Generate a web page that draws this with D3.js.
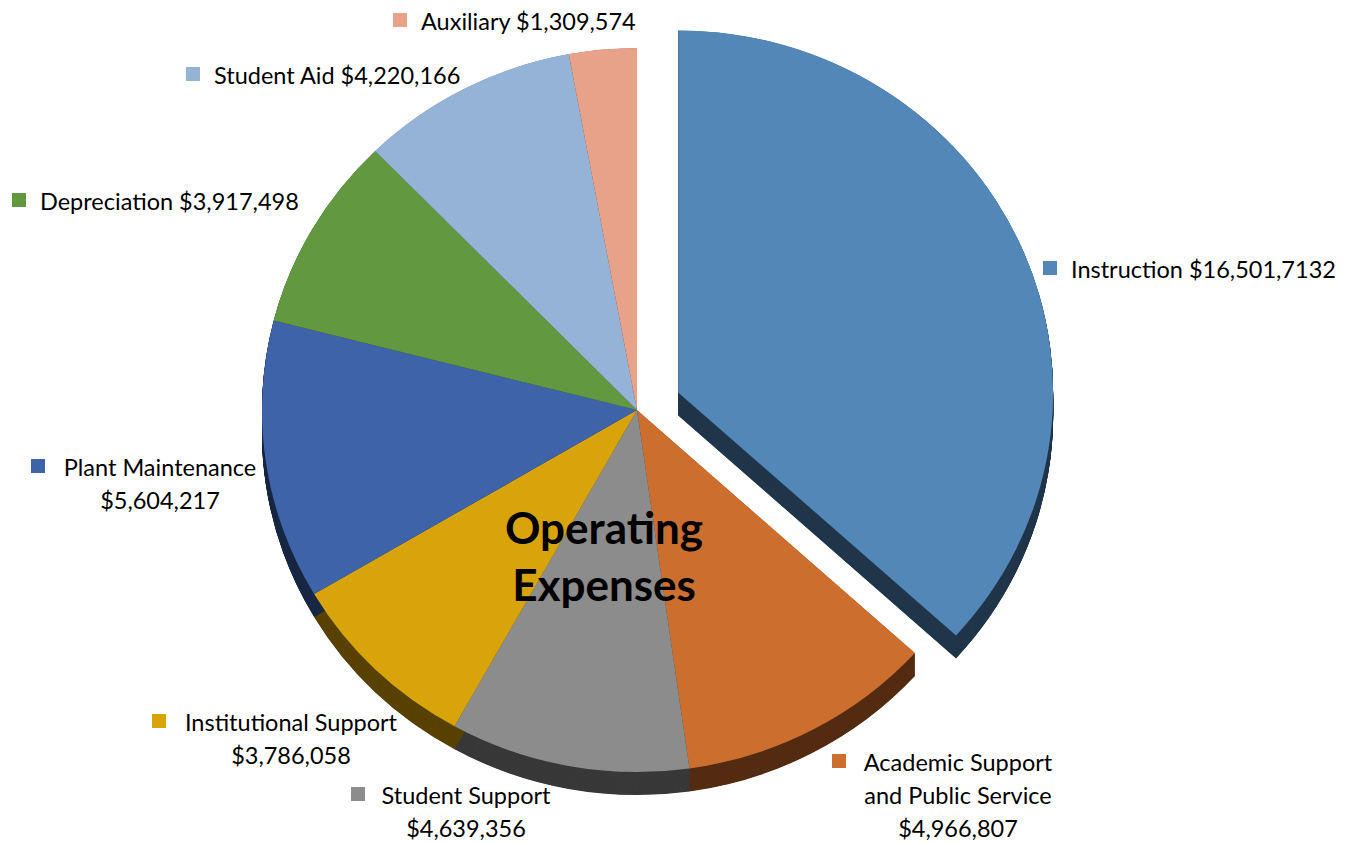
<!DOCTYPE html>
<html>
<head>
<meta charset="utf-8">
<script src="https://cdn.jsdelivr.net/npm/d3@7"></script>
<style>
  body { margin: 0; background: #fff; }
  text { font-family: Lato, "Noto Sans", sans-serif; fill: #000; }
</style>
</head>
<body>
<div id="chart"></div>
<script>
// data
var categories = ["Instruction", "Academic Support and Public Service", "Student Support",
  "Institutional Support", "Plant Maintenance", "Depreciation", "Student Aid", "Auxiliary"];
var values = [16501713, 4966807, 4639356, 3786058, 5604217, 3917498, 4220166, 1309574];
var labelLines = [
  ["Instruction $16,501,7132"],
  ["Academic Support", "and Public Service", "$4,966,807"],
  ["Student Support", "$4,639,356"],
  ["Institutional Support", "$3,786,058"],
  ["Plant Maintenance", "$5,604,217"],
  ["Depreciation $3,917,498"],
  ["Student Aid $4,220,166"],
  ["Auxiliary $1,309,574"]
];
var titleLines = ["Operating", "Expenses"];

// styles
var colors = ["#5387b8", "#cc6e2e", "#8c8c8c", "#d9a40a", "#3e63a8", "#629940", "#94b3d7", "#e8a28a"];
var exploded = [45, 0, 0, 0, 0, 0, 0, 0];

// label anchors: square left x, first baseline, center of text block (multi line)
var labelPos = [
  {x: 1043, y: 278},
  {x: 832, y: 771, cx: 958},
  {x: 351, y: 804, cx: 466},
  {x: 152, y: 731, cx: 291},
  {x: 31, y: 476, cx: 160},
  {x: 12, y: 210},
  {x: 186, y: 84},
  {x: 393, y: 30}
];

var svgWidth = 1363, svgHeight = 843;
var cx = 637, cy = 410;
var rx = 375, ry = 362;
var depth = 23;
var sy = ry / rx;

var svg = d3.select("#chart").append("svg")
  .attr("width", svgWidth)
  .attr("height", svgHeight);

var pie = d3.pie().value(d => d).sort(null);
var arcs = pie(values);
var arc = d3.arc().innerRadius(0).outerRadius(rx);

var pieGroup = svg.append("g")
  .attr("transform", `translate(${cx}, ${cy}) scale(1, ${sy})`);

function offset(d, i) {
  var mid = (d.startAngle + d.endAngle) / 2;
  return [Math.sin(mid) * exploded[i], -Math.cos(mid) * exploded[i]];
}

// side walls: stack of darker copies shifted down
var steps = d3.range(depth / sy, 0, -0.5);
var sides = pieGroup.append("g");
arcs.forEach(function(d, i) {
  var o = offset(d, i);
  var dark = d3.color(colors[i]).darker(2.5);
  sides.selectAll(null)
    .data(steps).enter()
    .append("path")
    .attr("d", arc(d))
    .attr("transform", t => `translate(${o[0]}, ${o[1] + t})`)
    .attr("fill", dark);
});

// top faces
pieGroup.append("g").selectAll("path")
  .data(arcs).enter()
  .append("path")
  .attr("d", arc)
  .attr("transform", (d, i) => { var o = offset(d, i); return `translate(${o[0]}, ${o[1]})`; })
  .attr("fill", (d, i) => colors[i]);

// labels
var fs = 23.5, lh = 33;
var labels = svg.append("g");
labelLines.forEach(function(lines, i) {
  var p = labelPos[i];
  labels.append("rect")
    .attr("x", p.x).attr("y", p.y - 17)
    .attr("width", 14).attr("height", 14)
    .attr("fill", colors[i]);
  if (lines.length === 1) {
    labels.append("text")
      .attr("x", p.x + 28).attr("y", p.y)
      .style("font-size", fs + "px")
      .text(lines[0]);
  } else {
    lines.forEach(function(line, j) {
      labels.append("text")
        .attr("x", p.cx).attr("y", p.y + j * lh)
        .attr("text-anchor", "middle")
        .style("font-size", fs + "px")
        .text(line);
    });
  }
});

// title
svg.append("g").selectAll("text")
  .data(titleLines).enter()
  .append("text")
  .attr("x", 604)
  .attr("y", (d, i) => 544 + i * 57)
  .attr("text-anchor", "middle")
  .style("font-size", "44px")
  .style("font-weight", "bold")
  .text(d => d);
</script>
</body>
</html>
